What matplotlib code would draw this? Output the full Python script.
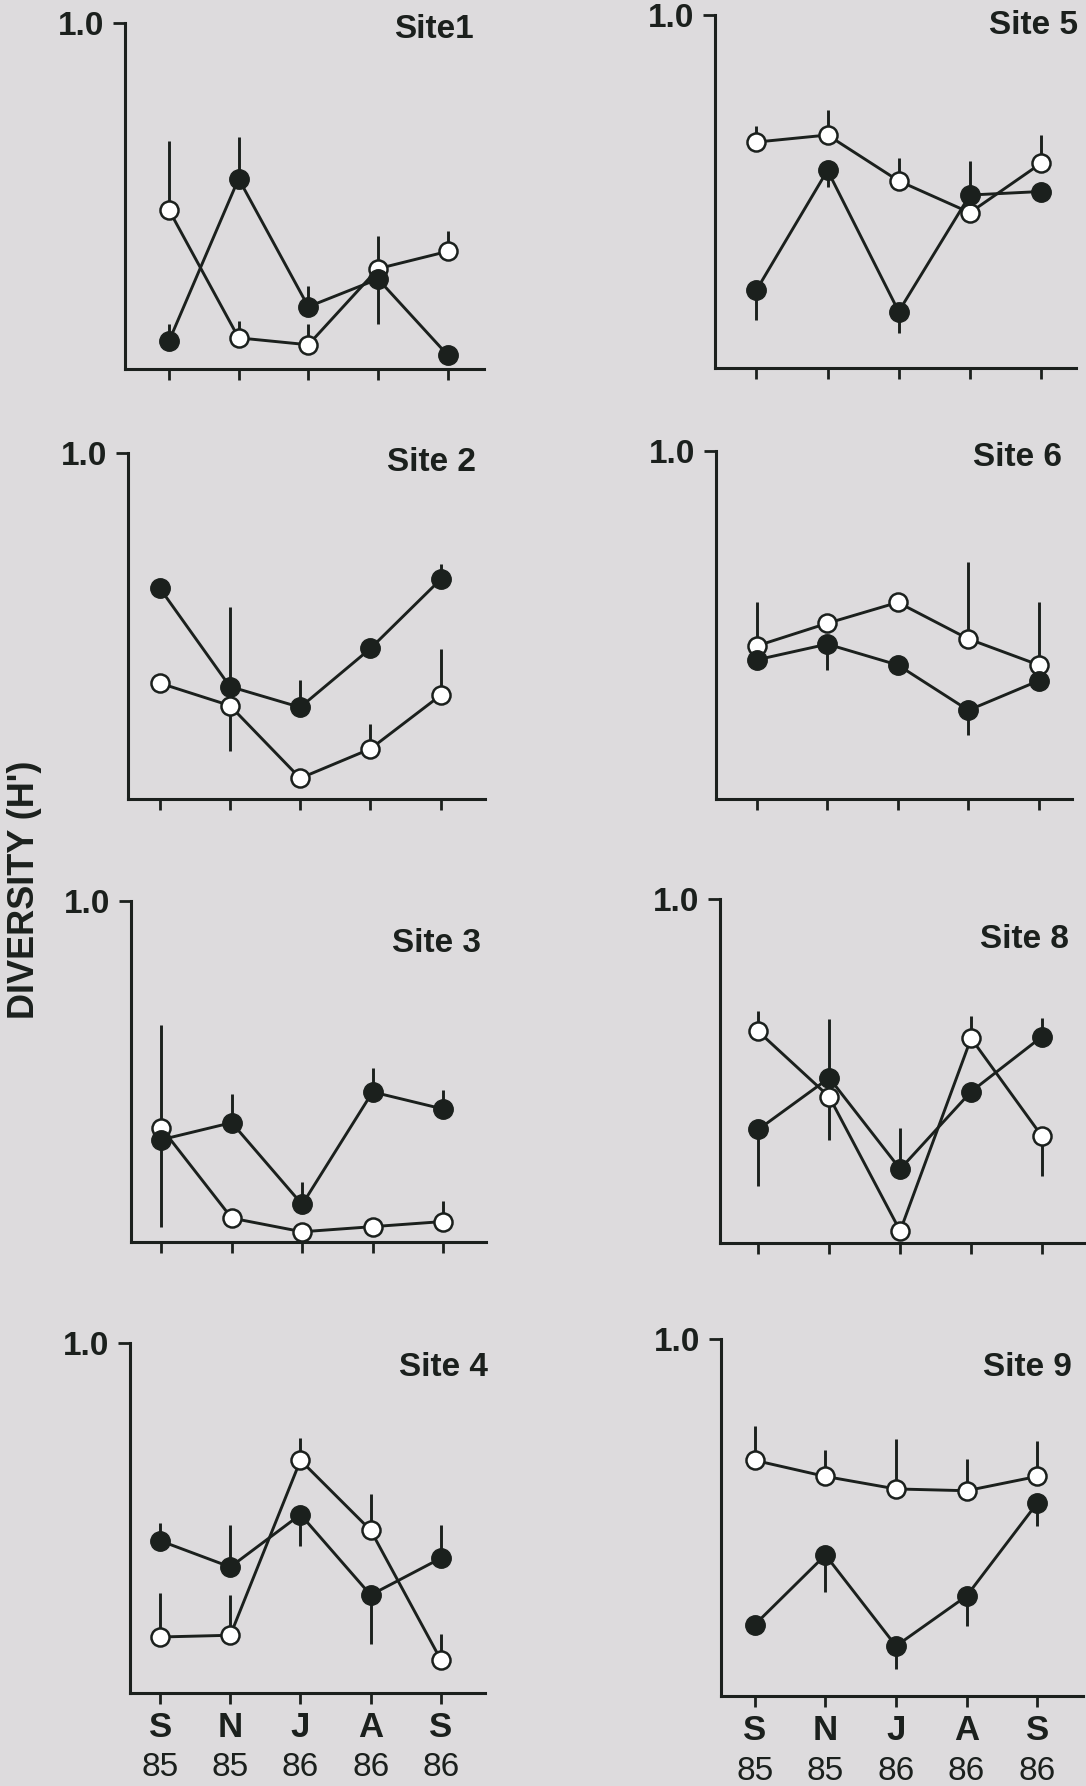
import numpy as np
import matplotlib
matplotlib.use('Agg')
import matplotlib.pyplot as plt

plt.rcParams['font.family'] = ['Liberation Sans', 'DejaVu Sans']

# 数据：月份标签
months = ['S', 'N', 'J', 'A', 'S']
years = ['85', '85', '86', '86', '86']
x = np.arange(1, 6)

# 空心圆 / 实心圆 的多样性指数及误差线（正值向上，负值向下）
site1_open = [0.46, 0.09, 0.07, 0.29, 0.34]
site1_open_err = [0.20, 0.05, 0.06, 0.095, 0.06]
site1_filled = [0.08, 0.55, 0.18, 0.26, 0.04]
site1_filled_err = [0.05, 0.12, 0.06, -0.13, 0]

site5_open = [0.64, 0.66, 0.53, 0.44, 0.58]
site5_open_err = [0.045, 0.07, 0.065, 0, 0.08]
site5_filled = [0.22, 0.56, 0.16, 0.49, 0.50]
site5_filled_err = [-0.085, -0.047, -0.06, 0.095, 0]

site2_open = [0.335, 0.27, 0.06, 0.145, 0.30]
site2_open_err = [0, -0.13, 0, 0.072, 0.133]
site2_filled = [0.61, 0.325, 0.265, 0.435, 0.635]
site2_filled_err = [0, 0.23, 0.08, 0, 0.045]

site6_open = [0.44, 0.505, 0.565, 0.46, 0.385]
site6_open_err = [0.125, 0, 0, 0.22, 0.18]
site6_filled = [0.40, 0.445, 0.385, 0.255, 0.34]
site6_filled_err = [0, -0.075, 0, -0.07, 0]

site3_open = [0.335, 0.07, 0.03, 0.045, 0.06]
site3_open_err = [0.30, 0, 0, 0, 0.06]
site3_filled = [0.30, 0.35, 0.11, 0.44, 0.39]
site3_filled_err = [-0.255, 0.085, 0.065, 0.07, 0.055]

site8_open = [0.615, 0.425, 0.035, 0.595, 0.31]
site8_open_err = [0.06, -0.125, 0, 0.065, -0.115]
site8_filled = [0.33, 0.48, 0.215, 0.44, 0.60]
site8_filled_err = [-0.165, 0.17, 0.12, 0, 0.055]

site4_open = [0.16, 0.165, 0.665, 0.465, 0.095]
site4_open_err = [0.125, 0.115, 0.065, 0.105, 0.075]
site4_filled = [0.435, 0.36, 0.51, 0.28, 0.385]
site4_filled_err = [0.05, 0.12, -0.09, -0.14, 0.095]

site9_open = [0.66, 0.615, 0.58, 0.575, 0.615]
site9_open_err = [0.095, 0.075, 0.14, 0.09, 0.1]
site9_filled = [0.20, 0.395, 0.14, 0.28, 0.54]
site9_filled_err = [0, -0.105, -0.065, -0.085, -0.065]

W, H = 1086, 1786
ink = '#1b201d'
bg = '#dddbdd'

# 每个小图：标题, 数据, 像素位置(左, 上, 右, 下), x范围, 标题右端与中心y
panels = [
    ('Site1', site1_open, site1_open_err, site1_filled, site1_filled_err, (125, 23, 484, 369), (0.37, 5.52), (474, 30), False),
    ('Site 5', site5_open, site5_open_err, site5_filled, site5_filled_err, (715, 15, 1076, 368), (0.42, 5.49), (1078, 25), False),
    ('Site 2', site2_open, site2_open_err, site2_filled, site2_filled_err, (128, 453, 485, 799), (0.55, 5.63), (476, 463), False),
    ('Site 6', site6_open, site6_open_err, site6_filled, site6_filled_err, (716, 451, 1072, 799), (0.42, 5.47), (1062, 457), False),
    ('Site 3', site3_open, site3_open_err, site3_filled, site3_filled_err, (131, 901, 486, 1242), (0.57, 5.61), (481, 943), False),
    ('Site 8', site8_open, site8_open_err, site8_filled, site8_filled_err, (720, 899, 1086, 1243), (0.46, 5.62), (1069, 940), False),
    ('Site 4', site4_open, site4_open_err, site4_filled, site4_filled_err, (130, 1343, 485, 1693), (0.57, 5.63), (488, 1368), True),
    ('Site 9', site9_open, site9_open_err, site9_filled, site9_filled_err, (721, 1339, 1083, 1696), (0.52, 5.65), (1072, 1368), True),
]

fig = plt.figure(figsize=(W / 100, H / 100), dpi=100, facecolor=bg)

for title, op, op_err, fi, fi_err, (l, t, r, b), xl, (tx, ty), labels in panels:
    ax = fig.add_axes([l / W, 1 - b / H, (r - l) / W, (b - t) / H])
    ax.set_facecolor('none')
    op = np.array(op)
    fi = np.array(fi)
    # 误差线（单侧）
    ax.vlines(x, op, op + np.array(op_err), color=ink, lw=2.1, zorder=2)
    ax.vlines(x, fi, fi + np.array(fi_err), color=ink, lw=2.1, zorder=2)
    ax.plot(x, op, '-o', color=ink, lw=2.1, ms=13, mfc='white', mec=ink, mew=1.8, zorder=3)
    ax.plot(x, fi, '-o', color=ink, lw=2.1, ms=14, mfc=ink, mec=ink, mew=1.0, zorder=4)

    ax.set_xlim(*xl)
    ax.set_ylim(0, 1.0)
    for s in ['top', 'right']:
        ax.spines[s].set_visible(False)
    for s in ['left', 'bottom']:
        ax.spines[s].set_linewidth(2.2)
        ax.spines[s].set_color(ink)
    ax.set_yticks([1.0])
    ax.set_yticklabels(['1.0'], fontsize=24, fontweight='bold', color=ink)
    ax.tick_params(axis='y', direction='out', length=9, width=2.0, pad=6, color=ink)
    ax.set_xticks(x)
    ax.tick_params(axis='x', direction='out', length=8, width=2.0, color=ink, pad=5)
    if labels:
        ax.set_xticklabels(months, fontsize=25, fontweight='bold', color=ink)
        for xi, yr in zip(x, years):
            ax.annotate(yr, xy=(xi, 0), xycoords=('data', 'axes fraction'),
                        xytext=(0, -75 * 0.72), textcoords='offset points',
                        ha='center', va='center', fontsize=24, color=ink)
    else:
        ax.set_xticklabels([])

    fig.text(tx / W, 1 - ty / H, title, ha='right', va='center',
             fontsize=24, fontweight='bold', color=ink)

fig.text(25 / W, 1 - 890 / H, "DIVERSITY (H')", rotation=90, ha='center', va='center',
         fontsize=26, fontweight='bold', color=ink)

plt.savefig('out.png', dpi=100, facecolor=bg)
